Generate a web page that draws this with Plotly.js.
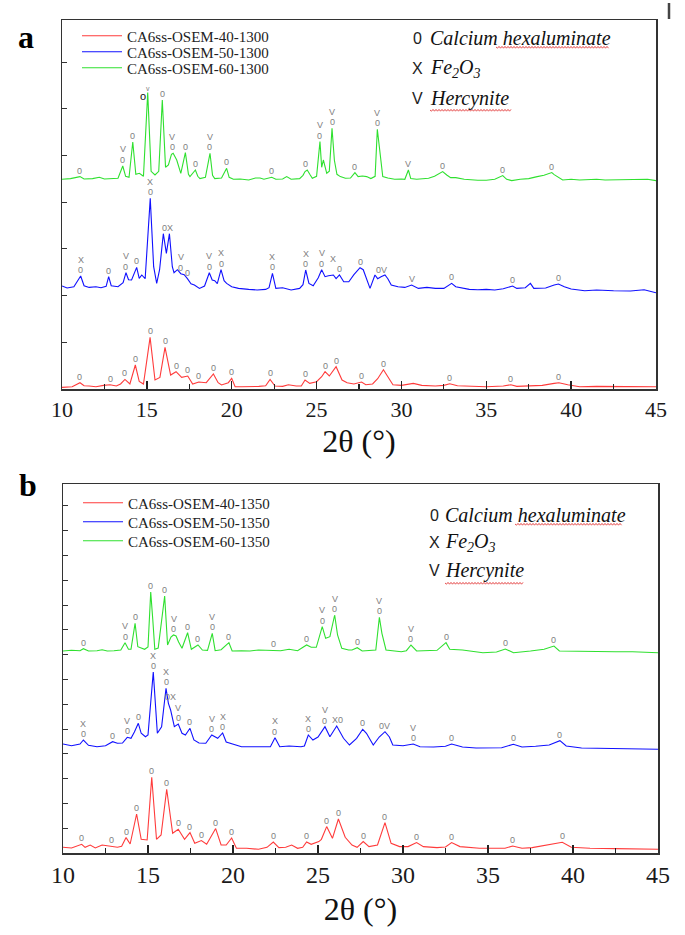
<!DOCTYPE html>
<html>
<head>
<meta charset="utf-8">
<script src="https://cdn.plot.ly/plotly-3.0.1.min.js"></script>
<style>
  html, body { margin: 0; padding: 0; background: #fff; }
  #chart { width: 685px; height: 935px; }
</style>
</head>
<body>
<div id="chart"></div>
<script>
// XRD patterns, 2θ (deg) vs intensity (a.u., height above each curve's own baseline)

// ---- panel a (1300 °C) ----
const A40_2T = [10.0,10.6,11.06,11.3,11.6,12.0,12.45,12.83,13.2,13.45,13.71,14.0,14.32,14.55,14.8,15.19,15.48,15.77,16.07,16.4,16.72,17.05,17.41,17.7,18.06,18.5,18.92,19.2,19.4,19.8,20.0,20.2,20.6,21.0,21.6,22.0,22.26,22.55,23.0,23.34,23.8,24.1,24.32,24.6,25.0,25.3,25.5,25.75,26.15,26.5,26.8,27.2,27.65,27.9,28.3,28.6,28.94,29.2,29.5,30.0,30.7,31.2,32.0,32.5,32.85,33.3,34.0,35.0,36.0,36.45,36.8,37.5,38.3,39.0,39.28,39.8,40.5,41.5,42.5,43.5,45.0];
const A40_I = [-0.7,0,4,1,0.7,0,1.3,2,0.7,2.7,7.3,2.7,21.7,5.3,2.7,49.3,6.7,9.3,39.3,11.7,15,9.3,10.7,2.7,4.7,4,12.7,4,1.7,4,8.3,0,0,0,0.3,1,7.3,0.7,0.3,2,0.7,0.7,6.7,3.3,5,10,15,10.7,20,6.7,4,2.7,4.7,2,2.7,8,17,10,2,1.3,3.3,1.3,0.7,1.3,3,1,0.3,0,0.7,2,0.3,0.7,1.3,3.3,4,2,0,0.3,0,0.3,0];

const A50_2T = [10.0,10.3,10.7,11.1,11.3,11.6,12.0,12.3,12.6,12.75,12.9,13.3,13.6,13.77,13.92,14.1,14.4,14.55,14.7,14.9,15.2,15.4,15.58,15.75,15.97,16.15,16.33,16.5,16.6,16.8,17.0,17.2,17.39,17.6,17.8,18.1,18.4,18.68,18.85,19.0,19.15,19.37,19.55,19.7,20.0,20.4,21.0,21.5,22.0,22.2,22.4,22.6,23.0,23.5,24.0,24.2,24.36,24.55,24.8,25.1,25.3,25.5,25.7,25.99,26.15,26.35,26.6,26.9,27.2,27.4,27.56,27.75,27.9,28.15,28.44,28.6,28.8,29.03,29.2,29.4,29.8,30.2,30.6,31.0,31.5,32.0,32.5,32.96,33.2,34.0,34.5,35.0,35.5,36.0,36.55,36.8,37.3,37.6,37.8,38.5,39.0,39.25,39.6,40.0,40.8,41.5,42.5,43.5,44.3,45.0];
const A50_I = [0.7,-1.3,0,10.7,1,-0.7,0,-1,0.3,10,1,0,4,14,7,6.7,19.3,8.3,11.7,8,88.3,20,3.3,17,53,33.3,53,20,14,17,13,12,8,3,1.7,-1.7,0.7,14,6.7,6,3,17,6,3.3,0,-1.7,-2.7,-3.3,-2.7,-1,13.3,-1.7,-1,-3.3,-1.7,2,16.7,3.3,1,9,17,10,11,11.7,8,11.7,5,5,12,16,19,17,10,-1.7,11.7,8,10,11.7,8,1.7,0,-0.7,1.7,-1.7,-0.7,-1.7,-1.7,3.3,0,-2.7,-3,-2.7,-3.3,-2,0.7,-1.7,-1,3.3,-1.7,-1.3,1.7,2.7,0,-2.3,-4,-3.3,-4,-4.3,-3,-6];

const A60_2T = [10.0,10.5,11.06,11.3,11.8,12.2,12.5,13.0,13.3,13.58,13.75,13.95,14.17,14.35,14.56,14.8,15.05,15.25,15.48,15.7,15.91,16.1,16.27,16.45,16.55,16.76,16.9,17.0,17.27,17.45,17.54,17.86,18.0,18.13,18.45,18.72,18.87,19.0,19.4,19.7,19.85,20.1,20.5,21.0,21.4,21.67,21.9,22.36,22.6,23.0,23.24,23.5,24.0,24.2,24.32,24.45,24.6,24.75,25.0,25.2,25.3,25.4,25.6,25.75,25.91,26.05,26.2,26.4,26.7,27.0,27.26,27.45,27.7,27.95,28.2,28.45,28.58,28.74,28.9,29.2,29.6,30.0,30.2,30.41,30.55,30.9,31.6,31.95,32.43,32.67,32.9,33.2,33.7,34.5,35.0,35.5,35.97,36.2,36.5,37.0,37.5,38.0,38.4,38.86,39.0,39.5,40.0,40.5,41.5,42.0,43.0,44.0,44.5,45.0];
const A60_I = [0,0.7,2.7,0.3,0.7,2,0.3,0.7,1,13.3,3,2,37.3,5,6,3,86.7,8,4.3,8,79.3,12,14.3,25,26,19.3,10,6,26.7,5,2.7,9.3,3,0.7,2,26,4,0.7,1.3,11,2,0,0.3,-0.7,1.3,1.3,0,2,0,0.3,2.7,0,0.7,4,7.7,9.3,5,1,3,37.7,12,19.3,6,8,51,19,5,2.7,1,1.3,6.7,2.7,3.3,2.7,0.7,3,50,27.7,2.7,1.3,0,0.3,0,9.3,0.7,0,1,3,7.7,4.3,1.7,1.7,0,-1,-1,0,3.7,0,-1.3,0,0.7,2.7,4,6.7,4.7,-0.7,0,-0.7,0,-0.7,-0.7,-0.3,0,-1.3];

// ---- panel b (1350 °C) ----
const B40_2T = [10.0,10.5,11.1,11.3,11.6,11.9,12.3,12.86,13.2,13.45,13.71,13.95,14.33,14.6,14.95,15.22,15.5,15.77,16.1,16.45,16.78,17.15,17.47,17.75,18.14,18.45,18.98,19.3,19.6,19.92,20.2,20.8,21.5,22.0,22.37,22.7,23.1,23.45,23.8,24.1,24.33,24.6,25.05,25.2,25.51,25.85,26.2,26.6,27.0,27.3,27.66,28.0,28.5,28.94,29.3,29.8,30.3,30.8,31.2,32.0,32.5,32.86,33.35,34.5,35.5,36.0,36.45,37.0,37.6,38.5,39.37,39.9,41.0,42.5,44.0,45.0];
const B40_I = [1,0.3,4,1,3.3,0.3,3.3,2.3,1,2,10.7,4.3,34.3,9,8.3,71,9,13.3,59,15,19,9,15.7,5,7.7,4,19.7,3.3,3.3,10.3,0,0,-1,1,6.3,0.7,1,3.3,0,1,6.3,4,6.7,9,21.7,10,29.3,11,3.3,1,6.7,1.7,3.3,25.7,5,1.7,1.7,5.7,1.7,0.7,1.3,5.7,1.7,0,0.3,0,2.3,0,0.7,3.3,6,1,0,-0.3,-0.7,-1];

const B50_2T = [10.0,10.5,11.0,11.2,11.5,12.0,12.5,12.92,13.2,13.5,13.78,14.0,14.2,14.43,14.6,14.85,15.0,15.31,15.55,15.8,16.06,16.2,16.33,16.55,16.78,17.0,17.2,17.47,17.7,18.0,18.4,18.75,19.1,19.39,19.6,20.0,20.5,21.0,21.7,22.2,22.47,22.75,23.3,24.0,24.2,24.43,24.7,25.0,25.41,25.7,26.1,26.5,26.85,27.27,27.63,27.85,28.25,28.6,28.94,29.2,29.4,30.0,30.6,31.0,31.8,32.5,32.86,33.5,34.3,35.0,35.8,36.49,37.0,37.8,38.6,39.23,39.6,40.5,41.5,42.5,43.5,45.0];
const B50_I = [1,-0.7,1,5,-0.3,-1.7,-0.7,3.3,1.7,2,7.7,6.7,13,21.7,11.7,8.3,10,73,11.7,18.3,56.7,41.7,35,18.3,21,11.7,10,16.7,5,2,1.7,10,6.7,12,3,1,-1.7,-1.7,-1.7,-1.7,7.3,-1.7,-1,-1.7,-1,10,5,8,18.3,8.3,19,6.7,0,6.7,15.7,11.7,0,8,13.3,8,0,-0.7,1,-1.7,-2,-1.3,1,-2,-3,-2.7,-2.7,0.7,-2,-1.3,0,4.3,-1,-3,-3.3,-3.7,-4,-4.3];

const B60_2T = [10.0,10.5,11.0,11.2,11.5,12.0,12.3,12.6,13.0,13.4,13.65,13.85,14.0,14.24,14.4,14.6,14.8,15.0,15.16,15.28,15.4,15.6,15.98,16.15,16.35,16.5,16.65,16.8,17.0,17.33,17.55,17.94,18.2,18.5,18.78,18.95,19.3,19.76,19.95,20.5,21.0,21.5,22.0,22.37,22.8,23.3,23.8,24.33,24.6,24.9,25.25,25.45,25.7,25.98,26.15,26.4,26.8,27.0,27.31,27.6,28.0,28.4,28.61,28.76,29.0,29.5,29.9,30.2,30.47,30.8,31.5,32.0,32.53,32.75,33.5,34.0,34.7,35.5,36.02,36.5,37.0,37.5,38.3,38.88,39.2,40.0,41.5,42.5,43.5,45.0];
const B60_I = [0,0.7,0.3,2.3,0,0.3,1.3,0,0.3,1,8.3,1.7,1.7,27.7,4.3,2.7,1.7,4,59,31.7,1.7,3,55,6,14,16,15,9,2.7,18.3,1.7,6,1,0.7,17.7,0.3,1.3,8.3,0,0.3,0,1,0.7,1,0.3,1.7,0.3,6,3.7,3.7,24.3,12.7,14.3,36,16,2.7,1,1,3.3,0,0.7,1,33.7,17.7,1,0.3,-0.7,0.3,6,0,0,0.7,8.3,1.7,1,0,-1.7,-1,2,-1.7,-1,0,1.7,5,0,-0.3,-1,-0.7,-0.7,-1.7];

// baselines of the stacked curves
const OFF_A40 = 2.3, OFF_A50 = 102.3, OFF_A60 = 209.7;
const OFF_B40 = 4.7, OFF_B50 = 108, OFF_B60 = 202;

// phase marks over the peaks: 0 = CA6, X = Fe2O3, V = hercynite ("/" stacks marks)
const A40_LBL_2T = [11.06,12.83,13.71,14.32,15.19,16.07,16.72,17.41,18.06,18.92,20.0,22.26,24.32,25.5,26.15,27.65,28.94,32.85,36.45,39.28];
const A40_LBL = A40_LBL_2T.map(() => '0');
const A50_LBL_2T = [11.1,12.75,13.77,14.4,15.2,16.2,17.0,17.39,18.68,19.37,22.4,24.36,25.3,25.99,26.35,27.56,28.85,30.6,32.96,36.55,39.25];
const A50_LBL = ['X/0','0','V/0','0','X/0','0X','V/0','0','V/0','X/0','X/0','X/0','V/0','X/','0','0','0V','V','0','0','0'];
const A60_LBL_2T = [11.06,13.58,14.17,15.05,15.91,16.5,17.27,17.86,18.72,19.7,22.36,24.32,25.2,25.91,27.26,28.58,30.41,32.43,35.97,38.86];
const A60_LBL = ['0','V/0','0','v','0','V/0','0','0','V/0','0','0','0','V/0','V/0','0','V/0','V','0','0','0'];

const B40_LBL_2T = [11.1,12.86,13.71,14.33,15.22,16.1,16.78,17.47,18.14,18.98,19.92,22.37,24.33,25.51,26.2,27.66,28.94,30.8,32.86,36.45,39.37];
const B40_LBL = B40_LBL_2T.map(() => '0');
const B50_LBL_2T = [11.2,12.92,13.78,14.43,15.31,16.06,16.33,16.78,17.47,18.75,19.39,22.47,24.43,25.41,26.15,27.63,28.94,30.6,32.86,36.49,39.23];
const B50_LBL = ['X/0','0','V/0','0','X/0','X/0','0X','V/0','0','V/0','X/0','X/0','X/0','V/0','X0','0','0V','V/0','0','0','0'];
const B60_LBL_2T = [11.2,13.65,14.24,15.16,15.98,16.5,17.33,17.94,18.78,19.76,22.37,24.33,25.25,25.98,27.31,28.61,30.47,32.53,36.02,38.88];
const B60_LBL = ['0','V/0','0','0','0','V/0','0','0','V/0','0','0','0','V/0','V/0','0','V/0','V/0','0','0','0'];

const NAMES_A = ['CA6ss-OSEM-40-1300', 'CA6ss-OSEM-50-1300', 'CA6ss-OSEM-60-1300'];
const NAMES_B = ['CA6ss-OSEM-40-1350', 'CA6ss-OSEM-50-1350', 'CA6ss-OSEM-60-1350'];
const PHASES = [['0', '<i>Calcium hexaluminate</i>'], ['X', '<i>Fe<sub>2</sub>O<sub>3</sub></i>'], ['V', '<i>Hercynite</i>']];

// ---- drawing ----
const W = 685, H = 935;
const RED = '#ff3b3b', BLUE = '#1010ff', GREEN = '#2fe02f';
const SERIF = 'Liberation Serif';
const SANS = 'Liberation Sans';
const px = v => v / W;
const py = v => 1 - v / H;

function interp(xs, ys, x0) {
  for (let i = 1; i < xs.length; i++) {
    if (xs[i] >= x0) {
      const t = (x0 - xs[i - 1]) / (xs[i] - xs[i - 1]);
      return ys[i - 1] + t * (ys[i] - ys[i - 1]);
    }
  }
  return ys[ys.length - 1];
}

function peakAt(xs, ys, x0) {
  let m = interp(xs, ys, x0);
  xs.forEach((x, i) => { if (Math.abs(x - x0) <= 0.15 && ys[i] > m) m = ys[i]; });
  return m;
}

function peakMarks(xs, ys, off, lx, lt, xref, yref) {
  const out = [];
  lx.forEach((x0, i) => {
    const top = off + peakAt(xs, ys, x0);
    const rows = lt[i].split('/');
    rows.forEach((r, j) => {
      if (!r) return;
      const k = rows.length - 1 - j;
      out.push({
        x: x0, y: top, xref, yref, text: r, showarrow: false,
        xanchor: 'center', yanchor: 'bottom', yshift: k * 10.5, borderpad: 0,
        font: { family: SANS, size: r === 'v' ? 7 : 9, color: '#808080' }
      });
    });
  });
  return out;
}

function wavy(x0, x1, y) {
  let d = `M${px(x0)},${py(y)}`;
  for (let x = x0 + 1.5, k = 1; x <= x1; x += 1.5, k++) d += ` L${px(x)},${py(y + (k % 2 ? 1.2 : -0.6))}`;
  return { type: 'path', xref: 'paper', yref: 'paper', path: d, line: { color: '#e23a3a', width: 0.9 } };
}

function trace(xs, ys, off, color, name, xa, ya, leg) {
  return {
    x: xs, y: ys.map(v => v + off), type: 'scatter', mode: 'lines',
    line: { color, width: 1.1 }, name, xaxis: xa, yaxis: ya, legend: leg, hoverinfo: 'skip'
  };
}

const data = [
  trace(A40_2T, A40_I, OFF_A40, RED, NAMES_A[0], 'x', 'y', 'legend'),
  trace(A50_2T, A50_I, OFF_A50, BLUE, NAMES_A[1], 'x', 'y', 'legend2'),
  trace(A60_2T, A60_I, OFF_A60, GREEN, NAMES_A[2], 'x', 'y', 'legend3'),
  trace(B40_2T, B40_I, OFF_B40, RED, NAMES_B[0], 'x2', 'y2', 'legend4'),
  trace(B50_2T, B50_I, OFF_B50, BLUE, NAMES_B[1], 'x2', 'y2', 'legend5'),
  trace(B60_2T, B60_I, OFF_B60, GREEN, NAMES_B[2], 'x2', 'y2', 'legend6')
];

function xAxis(domain, anchor, fs, standoff) {
  return {
    domain, anchor, range: [10, 45], tickmode: 'linear', tick0: 10, dtick: 5,
    ticks: 'inside', ticklen: 8, tickwidth: 1.5, tickcolor: '#222',
    minor: { dtick: 2.5, ticks: 'inside', ticklen: 5, tickwidth: 1.2, tickcolor: '#222' },
    showline: true, linecolor: '#333', linewidth: 1.5, mirror: true,
    showgrid: false, zeroline: false, automargin: false,
    tickfont: { family: SERIF, size: fs, color: '#1a1a1a' },
    title: { text: '2θ (°)', font: { family: SERIF, size: 32, color: '#111' }, standoff }
  };
}
function yAxis(domain, anchor, step) {
  return {
    domain, anchor, range: [0, 369], tickmode: 'linear', tick0: 0, dtick: step,
    ticks: 'inside', ticklen: 5, tickcolor: '#333', showticklabels: false,
    showline: true, linecolor: '#333', linewidth: 1.5, mirror: true,
    showgrid: false, zeroline: false, automargin: false
  };
}
function legendAt(x, y) {
  return {
    x: px(x), y: py(y), xanchor: 'left', yanchor: 'middle', bgcolor: 'rgba(0,0,0,0)',
    borderwidth: 0, itemwidth: 40, font: { family: SERIF, size: 15, color: '#222' }
  };
}

const annotations = [
  ...peakMarks(A40_2T, A40_I, OFF_A40, A40_LBL_2T, A40_LBL, 'x', 'y'),
  ...peakMarks(A50_2T, A50_I, OFF_A50, A50_LBL_2T, A50_LBL, 'x', 'y'),
  ...peakMarks(A60_2T, A60_I, OFF_A60, A60_LBL_2T, A60_LBL, 'x', 'y'),
  ...peakMarks(B40_2T, B40_I, OFF_B40, B40_LBL_2T, B40_LBL, 'x2', 'y2'),
  ...peakMarks(B50_2T, B50_I, OFF_B50, B50_LBL_2T, B50_LBL, 'x2', 'y2'),
  ...peakMarks(B60_2T, B60_I, OFF_B60, B60_LBL_2T, B60_LBL, 'x2', 'y2'),
  // stray black "o" beside the strongest peak of the 60-1300 pattern
  { x: 14.75, y: OFF_A60 + peakAt(A60_2T, A60_I, 15.05), xref: 'x', yref: 'y', yshift: -3,
    text: 'o', showarrow: false, yanchor: 'middle', font: { family: SANS, size: 11, color: '#111' } },
  { x: px(16), y: py(17), xref: 'paper', yref: 'paper', text: '<b>a</b>', showarrow: false,
    font: { family: SERIF, size: 32, color: '#000' } },
  { x: px(17), y: py(485), xref: 'paper', yref: 'paper', text: '<b>b</b>', showarrow: false,
    font: { family: SERIF, size: 32, color: '#000' } }
];

// phase key, top right of each panel
[[417, 428, [38, 68, 98]], [434, 443, [515, 542, 570]]].forEach(([sx, tx, rows]) => {
  PHASES.forEach(([sym, txt], i) => {
    annotations.push({ x: px(sx), y: py(rows[i]), xref: 'paper', yref: 'paper', text: sym, showarrow: false,
      xanchor: 'center', yanchor: 'middle', font: { family: SANS, size: 16, color: '#222' } });
    annotations.push({ x: px(tx), y: py(rows[i]), xref: 'paper', yref: 'paper', text: txt, showarrow: false,
      xanchor: 'left', yanchor: 'middle', font: { family: SERIF, size: 20, color: '#111' } });
  });
});

const shapes = [
  wavy(496, 609, 47), wavy(430, 511, 110),
  wavy(515, 622, 524), wavy(445, 524, 583),
  { type: 'line', xref: 'paper', yref: 'paper', x0: px(669), x1: px(669), y0: py(3), y1: py(19),
    line: { color: '#444', width: 2.5 } }
];

const layout = {
  width: W, height: H, margin: { l: 0, r: 0, t: 0, b: 0 },
  font: { family: SERIF, color: '#222' },
  paper_bgcolor: '#fff', plot_bgcolor: '#fff', showlegend: true,
  xaxis: xAxis([px(62), px(656)], 'y', 22, 8),
  yaxis: yAxis([py(389), py(20)], 'x', 46.7),
  xaxis2: xAxis([px(63), px(658)], 'y2', 24, 10),
  yaxis2: yAxis([py(853), py(484)], 'x2', 24.8),
  legend: legendAt(77, 36), legend2: legendAt(77, 52), legend3: legendAt(77, 68),
  legend4: legendAt(78, 503), legend5: legendAt(78, 522), legend6: legendAt(78, 541),
  annotations, shapes
};

Plotly.newPlot('chart', data, layout, { staticPlot: true, displayModeBar: false });
</script>
</body>
</html>
